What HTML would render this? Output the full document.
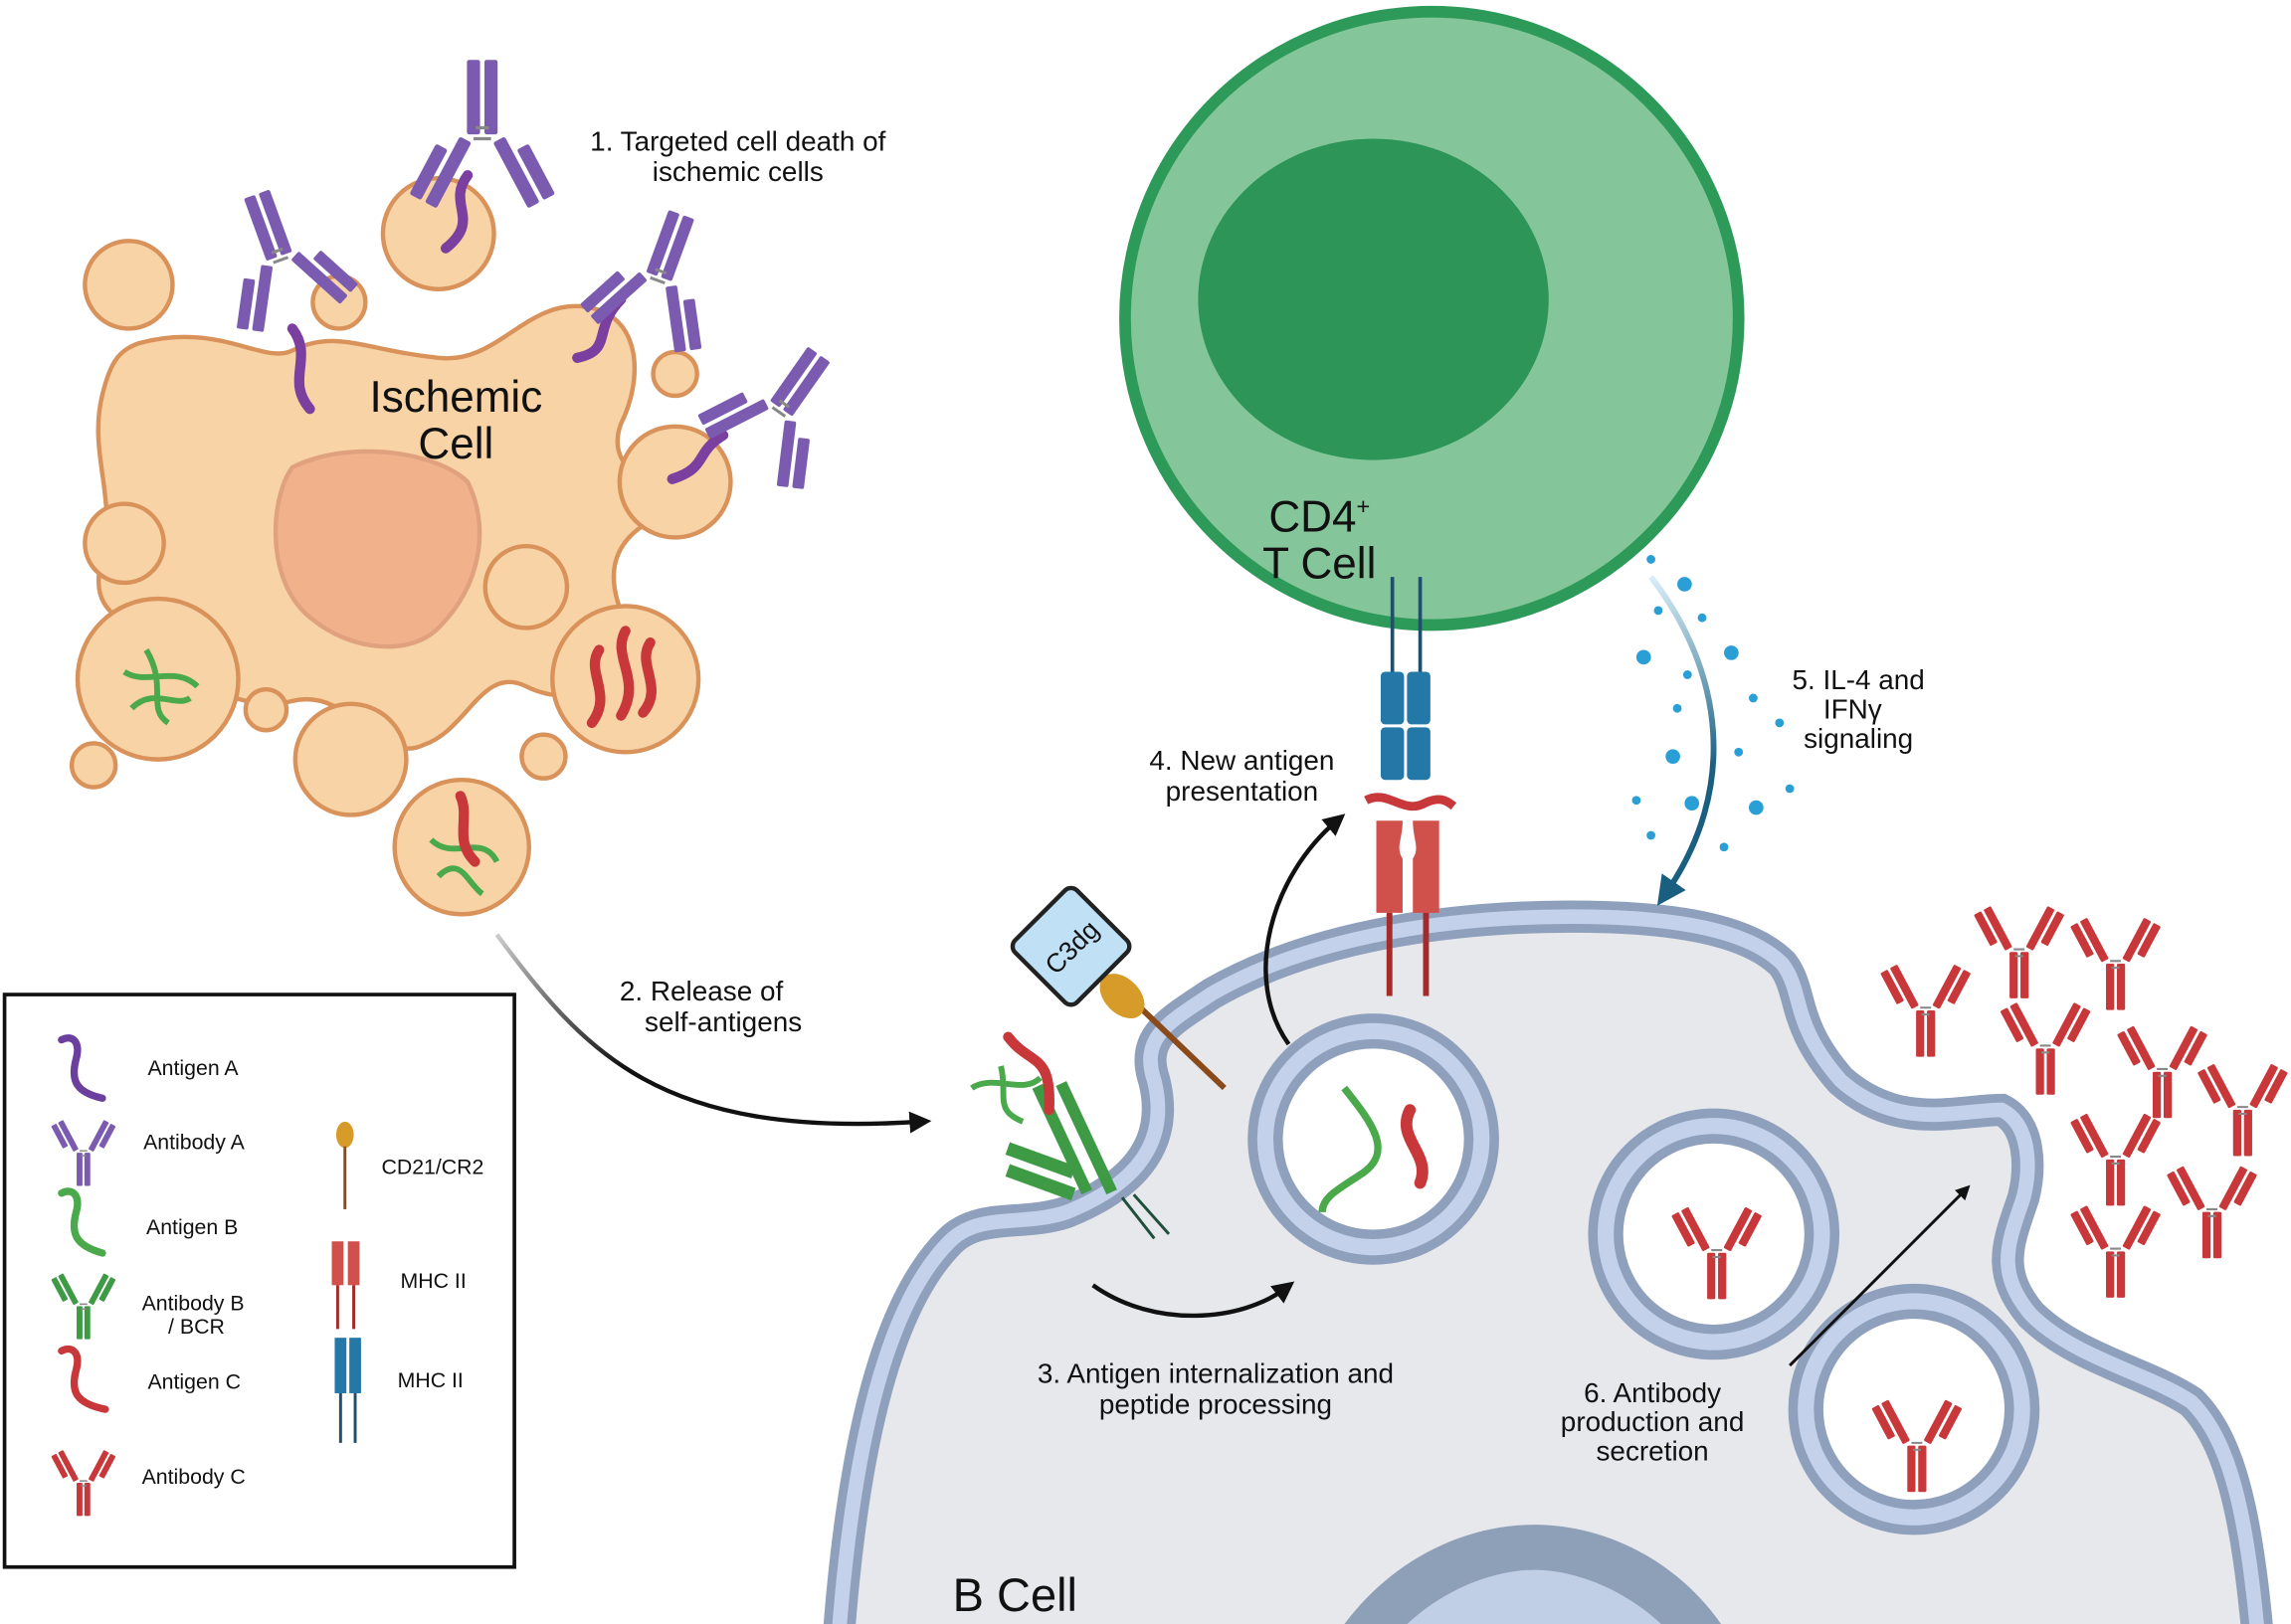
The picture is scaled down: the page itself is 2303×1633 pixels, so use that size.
<!DOCTYPE html>
<html><head><meta charset="utf-8"><style>
html,body{margin:0;padding:0;background:#fff;overflow:hidden}
svg{display:block}
text{font-family:"Liberation Sans",sans-serif;fill:#111}
</style></head><body>
<svg width="2303" height="1633" viewBox="0 0 1568 1112" xmlns="http://www.w3.org/2000/svg">
<defs>
<symbol id="ab" viewBox="-30 -40 60 80" overflow="visible">
  <g>
   <rect x="-7" y="2" width="6" height="34" rx="1"/>
   <rect x="1" y="2" width="6" height="34" rx="1"/>
   <g transform="rotate(-28 -4 0)"><rect x="-10" y="-36" width="6" height="34" rx="1"/><rect x="-18" y="-36" width="6" height="26" rx="1"/></g>
   <g transform="rotate(28 4 0)"><rect x="4" y="-36" width="6" height="34" rx="1"/><rect x="12" y="-36" width="6" height="26" rx="1"/></g>
  </g>
  <path d="M-4 0 L4 0 M-3 5 L3 5" stroke="#888" stroke-width="1.5"/>
</symbol>
<linearGradient id="g2" x1="0" y1="0" x2="1" y2="1"><stop offset="0" stop-color="#ccc"/><stop offset="0.5" stop-color="#111"/></linearGradient>
<linearGradient id="g5" x1="0" y1="0" x2="0" y2="1"><stop offset="0" stop-color="#d8eef8"/><stop offset="0.6" stop-color="#1a5f80"/></linearGradient>
<marker id="ah" viewBox="0 0 10 10" refX="5" refY="5" markerWidth="5" markerHeight="5" orient="auto"><path d="M0 0 L10 5 L0 10 z" fill="#111"/></marker>
<marker id="ahb" viewBox="0 0 10 10" refX="5" refY="5" markerWidth="5" markerHeight="5" orient="auto"><path d="M0 0 L10 5 L0 10 z" fill="#1a5f80"/></marker>
</defs>

<!-- B cell -->
<path d="M572 1150 C582 980 610 890 650 850 C670 830 700 840 730 830 C780 810 800 780 790 740 C780 710 800 700 830 680 C900 640 1000 625 1100 628 C1160 630 1200 640 1220 660 C1235 680 1225 700 1260 740 C1300 775 1340 760 1370 760 C1390 770 1390 800 1385 820 C1375 850 1365 870 1390 900 C1420 930 1470 940 1500 960 C1530 990 1540 1050 1548 1150 Z" fill="#e7e8ec" stroke="#8fa0bd" stroke-width="22"/>
<path d="M572 1150 C582 980 610 890 650 850 C670 830 700 840 730 830 C780 810 800 780 790 740 C780 710 800 700 830 680 C900 640 1000 625 1100 628 C1160 630 1200 640 1220 660 C1235 680 1225 700 1260 740 C1300 775 1340 760 1370 760 C1390 770 1390 800 1385 820 C1375 850 1365 870 1390 900 C1420 930 1470 940 1500 960 C1530 990 1540 1050 1548 1150" fill="none" stroke="#c3d2ea" stroke-width="10"/>
<!-- B nucleus -->
<path d="M918 1115 C950 1070 1000 1044 1050 1044 C1100 1044 1150 1070 1180 1115 Z" fill="#8e9fb8"/>
<path d="M960 1115 C985 1090 1020 1075 1050 1075 C1080 1075 1115 1090 1140 1115 Z" fill="#c0cfe6"/>
<!-- vesicles -->
<g fill="#fff" stroke="#8fa0bd" stroke-width="24"><circle cx="940" cy="780" r="74"/><circle cx="1173" cy="845" r="74"/><circle cx="1310" cy="965" r="74"/></g>
<g fill="none" stroke="#c3d2ea" stroke-width="11"><circle cx="940" cy="780" r="74"/><circle cx="1173" cy="845" r="74"/><circle cx="1310" cy="965" r="74"/></g>
<path d="M920 745 C940 770 955 790 930 805 C915 815 905 820 905 830" stroke="#4aa94a" stroke-width="5" fill="none"/>
<path d="M965 760 C955 780 980 790 972 810" stroke="#c8383a" stroke-width="8" fill="none" stroke-linecap="round"/>

<!-- T cell -->
<circle cx="980" cy="218" r="210" fill="#85c59a" stroke="#2e9a5a" stroke-width="8"/>
<ellipse cx="940" cy="205" rx="120" ry="110" fill="#2d9558"/>
<text x="903" y="364" font-size="30" text-anchor="middle">CD4<tspan font-size="16" dy="-12">+</tspan></text>
<text x="903" y="396" font-size="30" text-anchor="middle">T Cell</text>
<!-- TCR -->
<path d="M953 395 V460 M972 395 V460" stroke="#1f4f6b" stroke-width="2.5"/>
<rect x="945" y="460" width="16" height="36" rx="3" fill="#2478a8"/><rect x="963" y="460" width="16" height="36" rx="3" fill="#2478a8"/>
<rect x="945" y="498" width="16" height="36" rx="3" fill="#2478a8"/><rect x="963" y="498" width="16" height="36" rx="3" fill="#2478a8"/>
<path d="M935 548 C950 540 960 558 975 550 C985 545 990 548 995 552" stroke="#c8383a" stroke-width="6" fill="none"/>
<path d="M942 562 H960 C960 575 955 580 960 588 V625 H942 Z" fill="#d0504c"/>
<path d="M985 562 H967 C967 575 972 580 967 588 V625 H985 Z" fill="#d0504c"/>
<path d="M951 625 V682 M976 625 V682" stroke="#a52a2a" stroke-width="4"/>

<!-- Ischemic cell -->
<path d="M95 235 C150 220 180 250 200 240 C230 225 250 240 300 245 C340 250 360 205 400 210 C440 215 440 260 425 290 C410 330 470 330 440 360 C410 380 420 410 430 430 C450 460 400 490 360 470 C330 455 320 500 290 510 C260 525 240 470 200 480 C160 490 130 460 110 445 C80 420 60 420 70 380 C80 340 60 310 70 270 C75 250 80 240 95 235 Z" fill="#f8d3a6" stroke="#d8925a" stroke-width="3"/>
<path d="M200 320 C240 300 300 310 320 330 C335 360 330 400 300 430 C280 450 240 445 215 425 C180 400 185 340 200 320 Z" fill="#f0b18b" stroke="#e0a27e" stroke-width="3"/>
<g fill="#f8d3a6" stroke="#d8925a" stroke-width="3">
<circle cx="88" cy="195" r="30"/><circle cx="300" cy="160" r="38"/><circle cx="232" cy="207" r="18"/><circle cx="462" cy="256" r="15"/><circle cx="462" cy="330" r="38"/><circle cx="85" cy="372" r="27"/><circle cx="360" cy="402" r="28"/><circle cx="108" cy="465" r="55"/><circle cx="428" cy="465" r="50"/><circle cx="182" cy="486" r="14"/><circle cx="240" cy="520" r="38"/><circle cx="372" cy="518" r="15"/><circle cx="64" cy="524" r="15"/><circle cx="316" cy="580" r="46"/>
</g>
<text x="312" y="282" font-size="30" text-anchor="middle">Ischemic</text>
<text x="312" y="314" font-size="30" text-anchor="middle">Cell</text>
<g stroke="#4aa94a" stroke-width="4" fill="none"><path d="M85 460 C100 470 120 455 135 470"/><path d="M100 445 C115 470 100 485 115 495"/><path d="M90 485 C105 470 120 485 130 478"/><path d="M295 575 C310 590 330 570 340 590"/><path d="M300 600 C315 585 320 605 330 612"/></g>
<g stroke="#c8383a" stroke-width="7" fill="none" stroke-linecap="round"><path d="M410 445 C400 460 420 475 405 495"/><path d="M428 432 C418 450 440 465 425 490"/><path d="M445 440 C435 455 455 470 440 488"/><path d="M315 545 C322 560 310 575 325 590"/></g>
<g stroke="#7b3fa0" stroke-width="7" fill="none" stroke-linecap="round"><path d="M320 120 C305 140 330 150 305 170"/><path d="M200 225 C215 245 195 260 212 280"/><path d="M425 205 C405 225 420 240 395 245"/><path d="M495 298 C475 310 485 320 460 328"/></g>
<g fill="#7b5bb0">
<use href="#ab" x="-45" y="-60" width="90" height="120" transform="translate(330 95) rotate(180)"/>
<use href="#ab" x="-40" y="-55" width="80" height="110" transform="translate(192 178) rotate(160)"/>
<use href="#ab" x="-40" y="-55" width="80" height="110" transform="translate(450 192) rotate(200)"/>
<use href="#ab" x="-40" y="-55" width="80" height="110" transform="translate(533 282) rotate(215)"/>
</g>
<text x="505" y="103" font-size="19" text-anchor="middle">1. Targeted cell death of</text>
<text x="505" y="124" font-size="19" text-anchor="middle">ischemic cells</text>

<!-- arrows -->
<path d="M340 640 C400 720 450 780 630 768" stroke="url(#g2)" stroke-width="3" fill="none" marker-end="url(#ah)"/>
<text x="480" y="685" font-size="19" text-anchor="middle">2. Release of</text>
<text x="495" y="706" font-size="19" text-anchor="middle">self-antigens</text>
<path d="M748 880 C790 910 850 905 880 882" stroke="#111" stroke-width="3" fill="none" marker-end="url(#ah)"/>
<text x="832" y="947" font-size="19" text-anchor="middle">3. Antigen internalization and</text>
<text x="832" y="968" font-size="19" text-anchor="middle">peptide processing</text>
<path d="M882 715 C850 670 870 600 915 562" stroke="#111" stroke-width="3" fill="none" marker-end="url(#ah)"/>
<text x="850" y="527" font-size="19" text-anchor="middle">4. New antigen</text>
<text x="850" y="548" font-size="19" text-anchor="middle">presentation</text>
<path d="M1130 395 C1180 460 1190 540 1140 612" stroke="url(#g5)" stroke-width="4" fill="none" marker-end="url(#ahb)"/>
<g fill="#2a9fd6"><circle cx="1130" cy="383" r="3"/><circle cx="1153" cy="400" r="5"/><circle cx="1135" cy="418" r="3"/><circle cx="1165" cy="423" r="3"/><circle cx="1125" cy="450" r="5"/><circle cx="1155" cy="462" r="3"/><circle cx="1185" cy="447" r="5"/><circle cx="1148" cy="485" r="3"/><circle cx="1200" cy="478" r="3"/><circle cx="1218" cy="495" r="3"/><circle cx="1145" cy="518" r="5"/><circle cx="1190" cy="515" r="3"/><circle cx="1225" cy="540" r="3"/><circle cx="1120" cy="548" r="3"/><circle cx="1158" cy="550" r="5"/><circle cx="1202" cy="553" r="5"/><circle cx="1130" cy="572" r="3"/><circle cx="1180" cy="580" r="3"/></g>
<text x="1272" y="472" font-size="19" text-anchor="middle">5. IL-4 and</text>
<text x="1268" y="492" font-size="19" text-anchor="middle">IFNγ</text>
<text x="1272" y="512" font-size="19" text-anchor="middle">signaling</text>
<path d="M1225 935 L1345 815" stroke="#111" stroke-width="2" fill="none" marker-end="url(#ah)"/>
<text x="1131" y="960" font-size="19" text-anchor="middle">6. Antibody</text>
<text x="1131" y="980" font-size="19" text-anchor="middle">production and</text>
<text x="1131" y="1000" font-size="19" text-anchor="middle">secretion</text>
<text x="652" y="1103" font-size="32">B Cell</text>

<!-- C3dg / CD21 -->
<path d="M770 680 L838 745" stroke="#8a4a1a" stroke-width="4"/>
<ellipse cx="768" cy="682" rx="12" ry="18" transform="rotate(-45 768 682)" fill="#d79b2a"/>
<g transform="translate(733 648) rotate(-45)"><rect x="-30" y="-30" width="60" height="60" rx="6" fill="#bfe0f5" stroke="#222" stroke-width="3"/><text x="0" y="7" font-size="18" text-anchor="middle">C3dg</text></g>
<g fill="#3f9a45"><rect x="723" y="740" width="8" height="80" transform="rotate(-25 727 780)"/><rect x="740" y="738" width="8" height="82" transform="rotate(-25 744 780)"/><rect x="688" y="790" width="48" height="9" transform="rotate(20 712 795)"/><rect x="688" y="805" width="48" height="9" transform="rotate(20 712 810)"/></g>
<path d="M768 820 L790 848 M776 818 L800 845" stroke="#1f4f3b" stroke-width="2"/>
<path d="M690 710 C705 730 720 720 718 760" stroke="#c8383a" stroke-width="7" fill="none" stroke-linecap="round"/>
<path d="M665 745 C680 735 700 750 712 738 M685 730 C690 750 680 760 700 768" stroke="#4aa94a" stroke-width="4" fill="none"/>

<g fill="#c8383a">
<use href="#ab" x="-28" y="-38" width="56" height="76" transform="translate(1318 690)"/>
<use href="#ab" x="-28" y="-38" width="56" height="76" transform="translate(1382 650)"/>
<use href="#ab" x="-28" y="-38" width="56" height="76" transform="translate(1448 658)"/>
<use href="#ab" x="-28" y="-38" width="56" height="76" transform="translate(1400 716)"/>
<use href="#ab" x="-28" y="-38" width="56" height="76" transform="translate(1480 732)"/>
<use href="#ab" x="-28" y="-38" width="56" height="76" transform="translate(1535 758)"/>
<use href="#ab" x="-28" y="-38" width="56" height="76" transform="translate(1448 792)"/>
<use href="#ab" x="-28" y="-38" width="56" height="76" transform="translate(1514 828)"/>
<use href="#ab" x="-28" y="-38" width="56" height="76" transform="translate(1448 855)"/>
<use href="#ab" x="-28" y="-38" width="56" height="76" transform="translate(1175 856)"/>
<use href="#ab" x="-28" y="-38" width="56" height="76" transform="translate(1312 988)"/>
</g>

<!-- Legend -->
<rect x="3" y="681" width="349" height="392" fill="#fff" stroke="#111" stroke-width="2.5"/>
<g stroke-width="5" fill="none" stroke-linecap="round">
<path d="M42 712 C50 708 55 714 52 725 C48 740 52 748 70 752" stroke="#6b3f9e"/>
<path d="M42 817 C50 813 55 819 52 830 C48 845 52 853 70 858" stroke="#4aa94a"/>
<path d="M42 925 C50 921 55 927 52 938 C48 953 52 961 72 965" stroke="#c8383a"/>
</g>
<g fill="#7b5bb0"><use href="#ab" x="-20" y="-27" width="40" height="54" transform="translate(57 788)"/></g>
<g fill="#3f9a45"><use href="#ab" x="-20" y="-27" width="40" height="54" transform="translate(57 893)"/></g>
<g fill="#c8383a"><use href="#ab" x="-20" y="-27" width="40" height="54" transform="translate(57 1014)"/></g>
<ellipse cx="236" cy="777" rx="6" ry="9" fill="#d79b2a"/><path d="M236 785 V828" stroke="#8a4a1a" stroke-width="2"/>
<rect x="227" y="850" width="8" height="30" fill="#d0504c"/><rect x="238" y="850" width="8" height="30" fill="#d0504c"/><path d="M231 880 V910 M242 880 V910" stroke="#a52a2a" stroke-width="2"/>
<rect x="229" y="916" width="8" height="38" fill="#2478a8"/><rect x="239" y="916" width="8" height="38" fill="#2478a8"/><path d="M233 954 V988 M243 954 V988" stroke="#1f4f6b" stroke-width="2"/>
<g font-size="14.5"><text x="101" y="736">Antigen A</text><text x="98" y="787">Antibody A</text><text x="100" y="845">Antigen B</text><text x="97" y="897">Antibody B</text><text x="115" y="913">/ BCR</text><text x="101" y="951">Antigen C</text><text x="97" y="1016">Antibody C</text><text x="261" y="804">CD21/CR2</text><text x="274" y="882">MHC II</text><text x="272" y="950">MHC II</text></g>
</svg>
</body></html>
